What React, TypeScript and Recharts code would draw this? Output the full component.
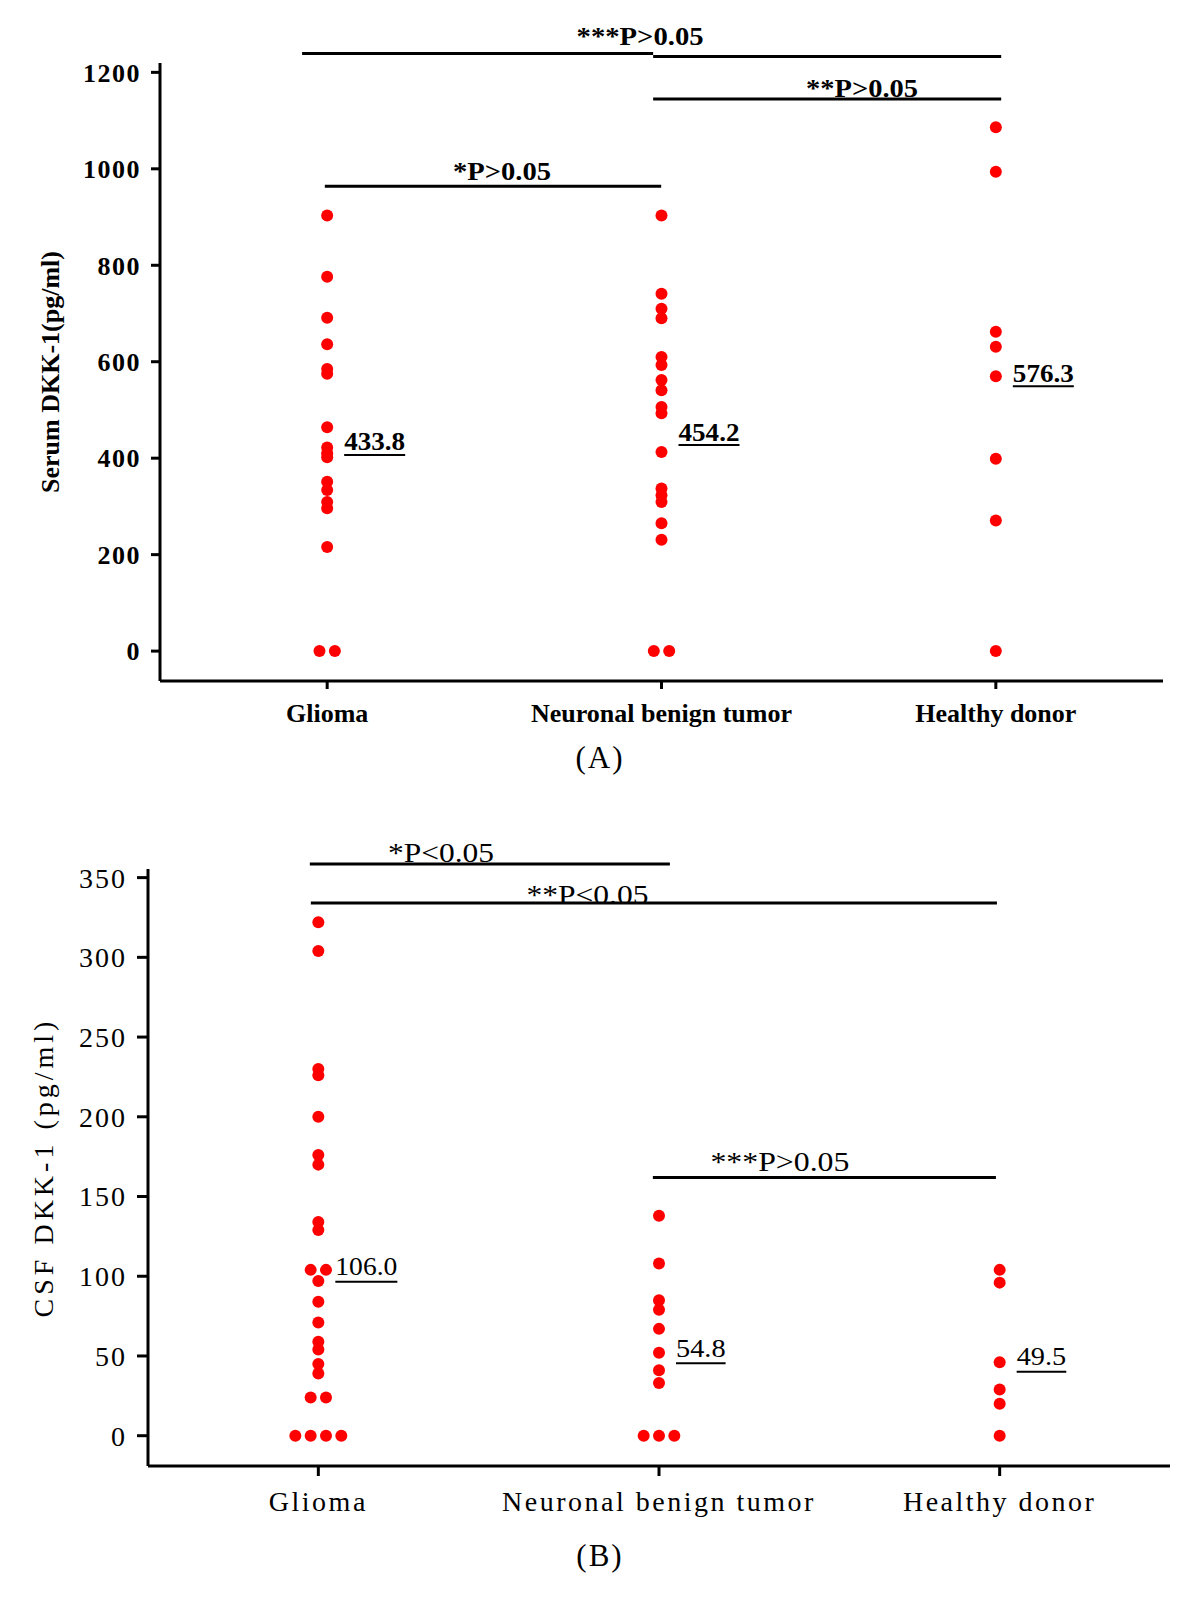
import React from 'react';
import { ScatterChart, Scatter, XAxis, YAxis, ReferenceLine, ReferenceDot } from 'recharts';

const GROUPS = ['Glioma', 'Neuronal benign tumor', 'Healthy donor'];

// (A) serum DKK-1, pg/ml
const SERUM_GLIOMA = [903, 776, 691, 636, 585, 575, 464, 422, 410, 402, 351, 334, 309, 296, 216, 0, 0];
const SERUM_BENIGN = [903, 741, 710, 690, 610, 593, 562, 541, 506, 493, 413, 337, 323, 309, 265, 231, 0, 0];
const SERUM_HEALTHY = [1086, 994, 662, 631, 570, 399, 271, 0];
const SERUM_MEANS = [433.8, 454.2, 576.3];
const SERUM_TICKS = [0, 200, 400, 600, 800, 1000, 1200];

// (B) CSF DKK-1, pg/ml
const CSF_GLIOMA = [322, 304, 230, 226, 200, 176, 170, 134, 129, 104, 104, 97, 84, 71, 59, 54, 45, 39, 24, 24, 0, 0, 0, 0];
const CSF_BENIGN = [138, 108, 85, 79, 67, 52, 41, 33, 0, 0, 0];
const CSF_HEALTHY = [104, 96, 46, 29, 20, 0];
const CSF_MEANS = [106.0, 54.8, 49.5];
const CSF_TICKS = [0, 50, 100, 150, 200, 250, 300, 350];

// significance bars: x in group units, y in data units
const SERUM_BARS = [
  { x1: 0.925, x2: 1.975, y: 1239 },
  { x1: 1.975, x2: 3.016, y: 1233 },
  { x1: 1.975, x2: 3.016, y: 1145 },
  { x1: 0.993, x2: 1.999, y: 964 },
];
const SERUM_NOTES = [
  { x: 1.936, y: 1275, text: '***P>0.05', w: 127 },
  { x: 2.6, y: 1167, text: '**P>0.05', w: 112 },
  { x: 1.523, y: 995, text: '*P>0.05', w: 98 },
];
const CSF_BARS = [
  { x1: 0.975, x2: 2.032, y: 358.5 },
  { x1: 0.978, x2: 2.992, y: 334 },
  { x1: 1.982, x2: 2.989, y: 162 },
];
const CSF_NOTES = [
  { x: 1.36, y: 366, text: '*P<0.05', w: 106 },
  { x: 1.79, y: 339.5, text: '**P<0.05', w: 122 },
  { x: 2.355, y: 172, text: '***P>0.05', w: 139 },
];

const SERIF = '"Liberation Serif", "DejaVu Serif", serif';

// identical values in a group are laid side by side
const spread = (groups: number[][], step: number) =>
  groups.flatMap((vals, g) => {
    const count: Record<number, number> = {};
    const seen: Record<number, number> = {};
    vals.forEach((v) => (count[v] = (count[v] || 0) + 1));
    return vals.map((v) => {
      const i = (seen[v] = (seen[v] ?? -1) + 1);
      return { x: g + 1 + (i - (count[v] - 1) / 2) * step, y: v };
    });
  });

const Dot = (p: any) => <circle cx={p.cx} cy={p.cy} r={6} fill="#ff0000" />;

// mean value written right of the column, underlined
const meanShape = (bold: boolean, size: number, charW: number, under: number) => (p: any) => {
  const label: string = p.payload.label;
  const w = label.length * charW;
  return (
    <g>
      <text
        x={p.cx + 17}
        y={p.cy}
        dominantBaseline="central"
        fontFamily={SERIF}
        fontSize={size}
        fontWeight={bold ? 'bold' : 'normal'}
        textLength={w}
        lengthAdjust="spacingAndGlyphs"
        fill="#000"
      >
        {label}
      </text>
      <line x1={p.cx + 17} x2={p.cx + 17 + w} y1={p.cy + under} y2={p.cy + under} stroke="#000" strokeWidth={2} />
    </g>
  );
};

const noteShape = (text: string, w: number, bold: boolean, size: number) => (p: any) => (
  <text
    x={p.cx - w / 2}
    y={p.cy}
    dominantBaseline="central"
    fontFamily={SERIF}
    fontSize={size}
    fontWeight={bold ? 'bold' : 'normal'}
    textLength={w}
    lengthAdjust="spacingAndGlyphs"
    fill="#000"
  >
    {text}
  </text>
);

interface PanelProps {
  top: number;
  points: { x: number; y: number }[];
  means: number[];
  ticks: number[];
  domain: [number, number];
  margin: { top: number; right: number; left: number; bottom: number };
  yWidth: number;
  title: string;
  titleOffset: number;
  titleStyle: any;
  bars: { x1: number; x2: number; y: number }[];
  notes: { x: number; y: number; text: string; w: number }[];
  bold: boolean;
  tickSize: number;
  tickFont: any;
  catFont: any;
  meanFont: number;
  meanCharW: number;
  meanUnder: number;
  noteFont: number;
}

const Panel = (p: PanelProps) => {
  const meanData = p.means.map((m, i) => ({ x: i + 1, y: m, label: m.toFixed(1) }));
  const axisStroke = { stroke: '#000', strokeWidth: 3 };
  return (
    <div style={{ position: 'absolute', left: 0, top: p.top }}>
      <ScatterChart width={1200} height={740} margin={p.margin}>
        <XAxis
          type="number"
          dataKey="x"
          domain={[0.5, 3.5]}
          allowDataOverflow
          ticks={[1, 2, 3]}
          interval={0}
          tickFormatter={(v: number) => GROUPS[Math.round(v) - 1]}
          height={60}
          axisLine={axisStroke}
          tickLine={axisStroke}
          tickSize={p.tickSize - 1}
          tickMargin={15}
          tick={{ fill: '#000', fontFamily: SERIF, ...p.catFont }}
        />
        <YAxis
          type="number"
          dataKey="y"
          domain={p.domain}
          allowDataOverflow
          ticks={p.ticks}
          interval={0}
          width={p.yWidth}
          axisLine={axisStroke}
          tickLine={axisStroke}
          tickSize={p.tickSize}
          tickMargin={10}
          tick={{ fill: '#000', fontFamily: SERIF, ...p.tickFont }}
          label={{
            value: p.title,
            angle: -90,
            position: 'insideLeft',
            offset: p.titleOffset,
            style: { textAnchor: 'middle', fill: '#000', fontFamily: SERIF, ...p.titleStyle },
          }}
        />
        {p.bars.map((b, i) => (
          <ReferenceLine
            key={'bar' + i}
            segment={[{ x: b.x1, y: b.y }, { x: b.x2, y: b.y }]}
            stroke="#000"
            strokeWidth={3}
            ifOverflow="visible"
          />
        ))}
        {p.notes.map((n, i) => (
          <ReferenceDot
            key={'note' + i}
            x={n.x}
            y={n.y}
            r={0}
            ifOverflow="visible"
            shape={noteShape(n.text, n.w, p.bold, p.noteFont)}
          />
        ))}
        <Scatter data={p.points} shape={Dot} isAnimationActive={false} />
        <Scatter
          data={meanData}
          shape={meanShape(p.bold, p.meanFont, p.meanCharW, p.meanUnder)}
          isAnimationActive={false}
        />
      </ScatterChart>
    </div>
  );
};

const caption = (top: number, text: string) => (
  <div
    style={{
      position: 'absolute',
      left: 0,
      width: 1200,
      top: top,
      textAlign: 'center',
      fontFamily: SERIF,
      fontSize: 31,
      lineHeight: '36px',
      letterSpacing: 2,
    }}
  >
    {text}
  </div>
);

export default function App() {
  return (
    <div style={{ position: 'absolute', left: 0, top: 0, width: 1200, height: 1600, background: '#fff' }}>
      <Panel
        top={0}
        points={spread([SERUM_GLIOMA, SERUM_BENIGN, SERUM_HEALTHY], 0.046)}
        means={SERUM_MEANS}
        ticks={SERUM_TICKS}
        domain={[-62, 1219.4]}
        margin={{ top: 63, right: 37, left: 40, bottom: -1 }}
        yWidth={120}
        title="Serum DKK-1(pg/ml)"
        titleOffset={10}
        titleStyle={{ fontSize: 26, fontWeight: 'bold' }}
        bars={SERUM_BARS}
        notes={SERUM_NOTES}
        bold={true}
        tickSize={9}
        tickFont={{ fontSize: 26, fontWeight: 'bold', letterSpacing: 1.5 }}
        catFont={{ fontSize: 26, fontWeight: 'bold' }}
        meanFont={25}
        meanCharW={12.2}
        meanUnder={13}
        noteFont={26}
      />
      {caption(740, '(A)')}
      <Panel
        top={800}
        points={spread([CSF_GLIOMA, CSF_BENIGN, CSF_HEALTHY], 0.045)}
        means={CSF_MEANS}
        ticks={CSF_TICKS}
        domain={[-19, 355.4]}
        margin={{ top: 69, right: 30, left: 30, bottom: 14 }}
        yWidth={118}
        title="CSF  DKK-1 (pg/ml)"
        titleOffset={13}
        titleStyle={{ fontSize: 28, letterSpacing: 4 }}
        bars={CSF_BARS}
        notes={CSF_NOTES}
        bold={false}
        tickSize={11}
        tickFont={{ fontSize: 28, letterSpacing: 2 }}
        catFont={{ fontSize: 28, letterSpacing: 2.5 }}
        meanFont={26}
        meanCharW={12.4}
        meanUnder={15}
        noteFont={28}
      />
      {caption(1538, '(B)')}
    </div>
  );
}
